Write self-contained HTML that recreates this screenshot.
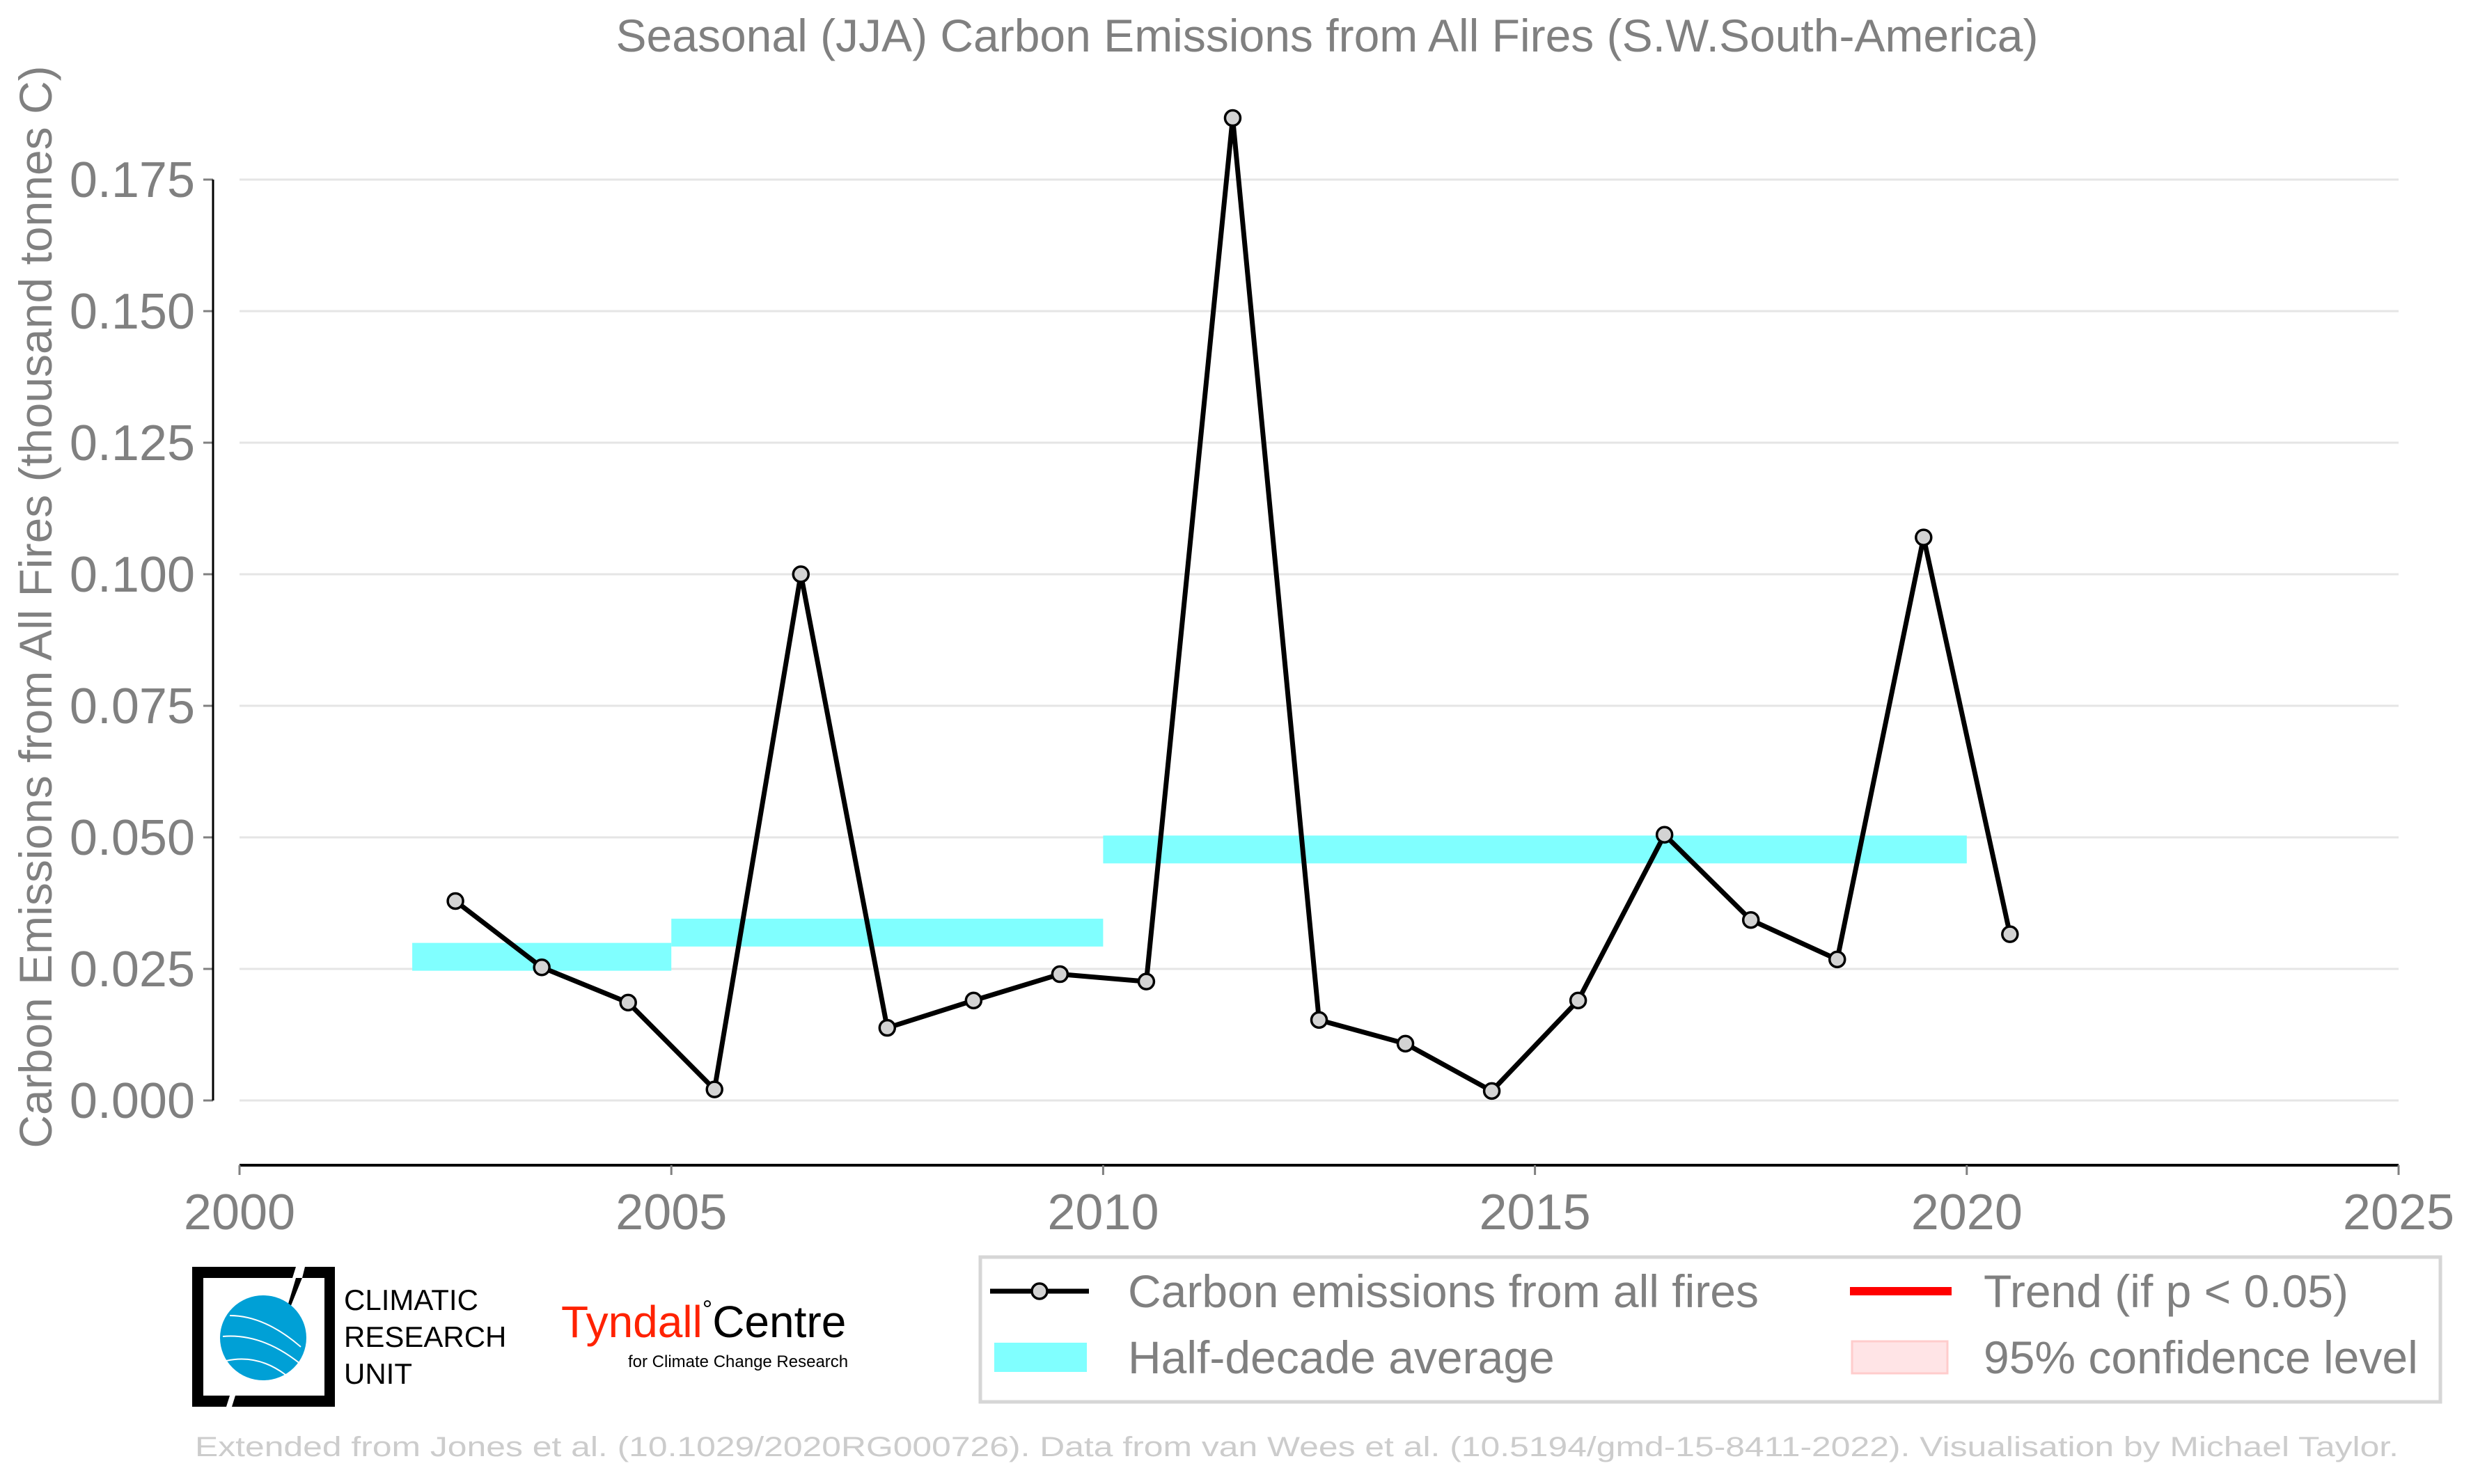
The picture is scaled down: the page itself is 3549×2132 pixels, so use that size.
<!DOCTYPE html>
<html><head><meta charset="utf-8"><style>
html,body{margin:0;padding:0;background:#fff;}
svg{display:block;font-family:"Liberation Sans",sans-serif;}
</style></head><body>
<svg id="chart" width="3549" height="2132" viewBox="0 0 3549 2132" xmlns="http://www.w3.org/2000/svg">
<text x="1906" y="74" font-size="66" fill="#808080" text-anchor="middle">Seasonal (JJA) Carbon Emissions from All Fires (S.W.South-America)</text>
<g id="grid"></g>
<g id="bars"></g>
<g id="series"></g>
<g id="axes"></g>
<text transform="translate(74,872) rotate(-90)" font-size="66" fill="#808080" text-anchor="middle">Carbon Emissions from All Fires (thousand tonnes C)</text>

<g>
<path d="M276,1820 L425,1820 L420,1836 L292,1836 L292,2005 L330,2005 L325,2021 L276,2021 Z" fill="#000"/>
<path d="M438,1820 L481,1820 L481,2021 L333,2021 L338,2005 L466,2005 L466,1836 L434,1836 Z" fill="#000"/>
<path d="M425,1836 L434,1836 L400,1920 Z" fill="#000"/>
<ellipse cx="378" cy="1922" rx="62" ry="61" fill="#00a0d6"/>
<path d="M330,1890 Q380,1890 432,1935 M320,1920 Q380,1915 438,1965 M325,1955 Q370,1945 410,1975" stroke="#fff" stroke-width="2" fill="none"/>
<text x="494" y="1882" font-size="42" fill="#000">CLIMATIC</text>
<text x="494" y="1935" font-size="42" fill="#000">RESEARCH</text>
<text x="494" y="1988" font-size="42" fill="#000">UNIT</text>
</g>
<g>
<text x="806" y="1921" font-size="64" fill="#ff2200">Tyndall<tspan fill="#000" font-size="36" dy="-28">°</tspan><tspan fill="#000" font-size="64" dy="28">Centre</tspan></text>
<text x="902" y="1964" font-size="24" fill="#000">for Climate Change Research</text>
</g>

<g>
<rect x="1408" y="1806" width="2097" height="208" fill="#fff" stroke="#d6d6d6" stroke-width="5"/>
<g>
<line x1="1422" y1="1855" x2="1564" y2="1855" stroke="#000" stroke-width="7"/>
<circle cx="1493" cy="1855" r="11" fill="#d3d3d3" stroke="#000" stroke-width="3.5"/>
<text x="1620" y="1878" font-size="66" fill="#808080">Carbon emissions from all fires</text>
</g>
<g>
<rect x="1428" y="1929" width="133" height="42" fill="#80ffff"/>
<text x="1620" y="1973" font-size="66" fill="#808080">Half-decade average</text>
</g>
<g>
<rect x="2657" y="1849" width="146" height="12" fill="#ff0000"/>
<text x="2849" y="1878" font-size="66" fill="#808080">Trend (if p &lt; 0.05)</text>
</g>
<g>
<rect x="2660" y="1927" width="137" height="46" fill="#ffe4e6" stroke="#ffcccc" stroke-width="3"/>
<text x="2849" y="1973" font-size="66" fill="#808080">95% confidence level</text>
</g>
</g>
<text x="280" y="2092" font-size="40" fill="#cccccc" textLength="3165" lengthAdjust="spacingAndGlyphs">Extended from Jones et al. (10.1029/2020RG000726). Data from van Wees et al. (10.5194/gmd-15-8411-2022). Visualisation by Michael Taylor.</text>
</svg>
<script>
const years = [2002.5,2003.5,2004.5,2005.5,2006.5,2007.5,2008.5,2009.5,2010.5,2011.5,2012.5,2013.5,2014.5,2015.5,2016.5,2017.5,2018.5,2019.5,2020.5];
const emissions = [0.0379,0.0253,0.0186,0.0021,0.1000,0.0138,0.0190,0.0240,0.0226,0.1867,0.0153,0.0108,0.0018,0.0190,0.0505,0.0343,0.0268,0.1070,0.0316];
const halfStarts = [2002,2005,2010];
const halfEnds = [2005,2010,2020];
const halfValues = [0.0273,0.0319,0.0477];
const yTicks = [0,0.025,0.05,0.075,0.1,0.125,0.15,0.175];
const yTickLabels = ["0.000","0.025","0.050","0.075","0.100","0.125","0.150","0.175"];
const xTicks = [2000,2005,2010,2015,2020,2025];

const NS = "http://www.w3.org/2000/svg";
const X0 = 344, X1 = 3445, Y0 = 1581, Y175 = 258;
const xs = v => X0 + (v - 2000) / 25 * (X1 - X0);
const ys = v => Y0 - v / 0.175 * (Y0 - Y175);
function mk(tag, attrs, parent){ const e=document.createElementNS(NS,tag); for(const k in attrs) e.setAttribute(k,attrs[k]); parent.appendChild(e); return e; }

const grid = document.getElementById('grid');
const axes = document.getElementById('axes');
yTicks.forEach((t,i)=>{
  const g = mk('line',{x1:X0,x2:X1,y1:ys(t),y2:ys(t),stroke:'#e5e5e5','stroke-width':3},grid);
  
  
  const tk = mk('line',{x1:292,x2:306,y1:ys(t),y2:ys(t),stroke:'#808080','stroke-width':3},axes);
  
  
  const lb = mk('text',{x:280,y:ys(t)+25,'font-size':72,fill:'#808080','text-anchor':'end'},axes);
  lb.textContent = yTickLabels[i];
  
  
});
const ysp = mk('line',{x1:306,x2:306,y1:Y175,y2:Y0,stroke:'#000','stroke-width':3},axes);


const xsp = mk('line',{x1:X0,x2:X1,y1:1674,y2:1674,stroke:'#000','stroke-width':4},axes);


xTicks.forEach(t=>{
  const tk = mk('line',{x1:xs(t),x2:xs(t),y1:1674,y2:1688,stroke:'#808080','stroke-width':3},axes);
  
  
  const lb = mk('text',{x:xs(t),y:1766,'font-size':72,fill:'#808080','text-anchor':'middle'},axes);
  lb.textContent = t;
  
  
});

const bars = document.getElementById('bars');
halfValues.forEach((v,i)=>{
  const r = mk('rect',{x:xs(halfStarts[i]),width:xs(halfEnds[i])-xs(halfStarts[i]),y:ys(v)-20,height:40,fill:'#80ffff'},bars);
  
  
});

const series = document.getElementById('series');
const pl = mk('polyline',{points:years.map((y,i)=>xs(y)+','+ys(emissions[i])).join(' '),fill:'none',stroke:'#000','stroke-width':7,'stroke-linejoin':'round'},series);


years.forEach((y,i)=>{
  const c = mk('circle',{cx:xs(y),cy:ys(emissions[i]),r:11,fill:'#d3d3d3',stroke:'#000','stroke-width':3.5},series);
  
  
});
</script>
</body></html>
